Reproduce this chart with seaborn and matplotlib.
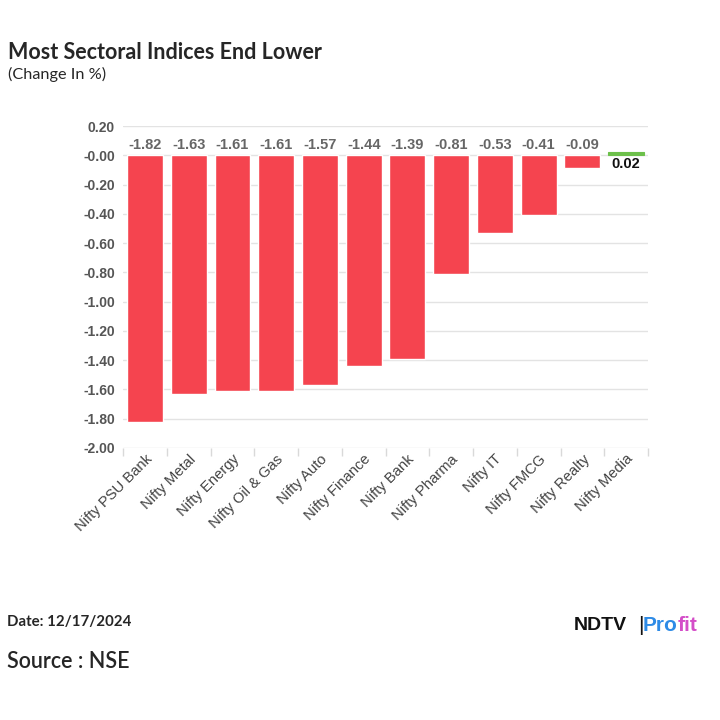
import seaborn as sns
import matplotlib.pyplot as plt
import pandas as pd
import numpy as np

sectors = ['Nifty PSU Bank', 'Nifty Metal', 'Nifty Energy', 'Nifty Oil & Gas', 'Nifty Auto',
           'Nifty Finance', 'Nifty Bank', 'Nifty Pharma', 'Nifty IT', 'Nifty FMCG',
           'Nifty Realty', 'Nifty Media']
changes = [-1.82, -1.63, -1.61, -1.61, -1.57, -1.44, -1.39, -0.81, -0.53, -0.41, -0.09, 0.02]
yticks = [0.20, 0.0, -0.20, -0.40, -0.60, -0.80, -1.00, -1.20, -1.40, -1.60, -1.80, -2.00]
ytick_labels = ['0.20', '-0.00', '-0.20', '-0.40', '-0.60', '-0.80', '-1.00', '-1.20',
                '-1.40', '-1.60', '-1.80', '-2.00']

df = pd.DataFrame({'sector': sectors, 'change': changes})
df['colour'] = ['up' if v > 0 else 'down' for v in changes]

sns.set_style('white')
plt.rcParams['font.family'] = ['Liberation Sans', 'DejaVu Sans']

fig = plt.figure(figsize=(7.2, 7.2), dpi=100)
ax = fig.add_axes([0.171, 0.378, 0.729, 0.447])

sns.barplot(data=df, x='sector', y='change', hue='colour',
            palette={'down': '#F5444F', 'up': '#6CC04A'}, width=0.82,
            dodge=False, legend=False, ax=ax, saturation=1)

# make the tiny positive bar visible like the original
for p in ax.patches:
    if p.get_height() > 0:
        p.set_edgecolor('#6CC04A')
        p.set_linewidth(0.8)

ax.set_ylim(-2.0, 0.2)
ax.set_xlim(-0.5, len(sectors) - 0.5)
ax.set_yticks(yticks)
ax.set_yticklabels(ytick_labels)
ax.yaxis.grid(True, color='#e3e3e3', linewidth=1)
ax.set_axisbelow(True)
for s in ax.spines.values():
    s.set_visible(False)
ax.set_xlabel('')
ax.set_ylabel('')
ax.set_xticks(np.arange(len(sectors) + 1) - 0.5, minor=True)
ax.tick_params(axis='x', which='minor', bottom=True, length=6, color='#d9d9d9', width=1)
ax.tick_params(axis='y', length=0, pad=6, labelsize=10, labelcolor='#555555')
ax.tick_params(axis='x', which='major', length=0, pad=3, labelsize=10.6,
               labelcolor='#444444')
for lab in ax.get_yticklabels():
    lab.set_fontweight('bold')
plt.setp(ax.get_xticklabels(), rotation=45, ha='right', rotation_mode='anchor')

for i, v in enumerate(changes):
    if v < 0:
        ax.text(i, 0.025, f'{v:.2f}', ha='center', va='bottom', fontsize=10.5,
                fontweight='bold', color='#666666')
    else:
        ax.text(i, -0.01, f'{v:.2f}', ha='center', va='top', fontsize=10.5,
                fontweight='bold', color='#111111')

fig.text(0.011, 0.927, 'Most Sectoral Indices End Lower', fontsize=15.5, fontweight='bold',
         family='Lato', va='center')
fig.text(0.011, 0.896, '(Change In %)', fontsize=11.7, family='Lato', va='center')
fig.text(0.01, 0.136, 'Date: 12/17/2024', fontsize=10.8, fontweight='bold', family='Lato',
         va='center')
fig.text(0.01, 0.081, 'Source : NSE', fontsize=15.5, fontweight='semibold', family='Lato',
         va='center')

ndtv = fig.text(0.797, 0.131, 'NDTV', fontsize=14, fontweight='heavy', color='#111111',
                va='center')
bar = fig.text(0.886, 0.131, '|', fontsize=15, color='#111111', va='center')
pro = fig.text(0.893, 0.131, 'Pro', fontsize=15, fontweight='bold', color='#2E8BE6',
               va='center')
ax.annotate('fit', xy=(1, 0.5), xycoords=pro, va='center', ha='left', fontsize=15,
            fontweight='bold', color='#D44DC8', annotation_clip=False)

fig.savefig('out.png', dpi=100)
